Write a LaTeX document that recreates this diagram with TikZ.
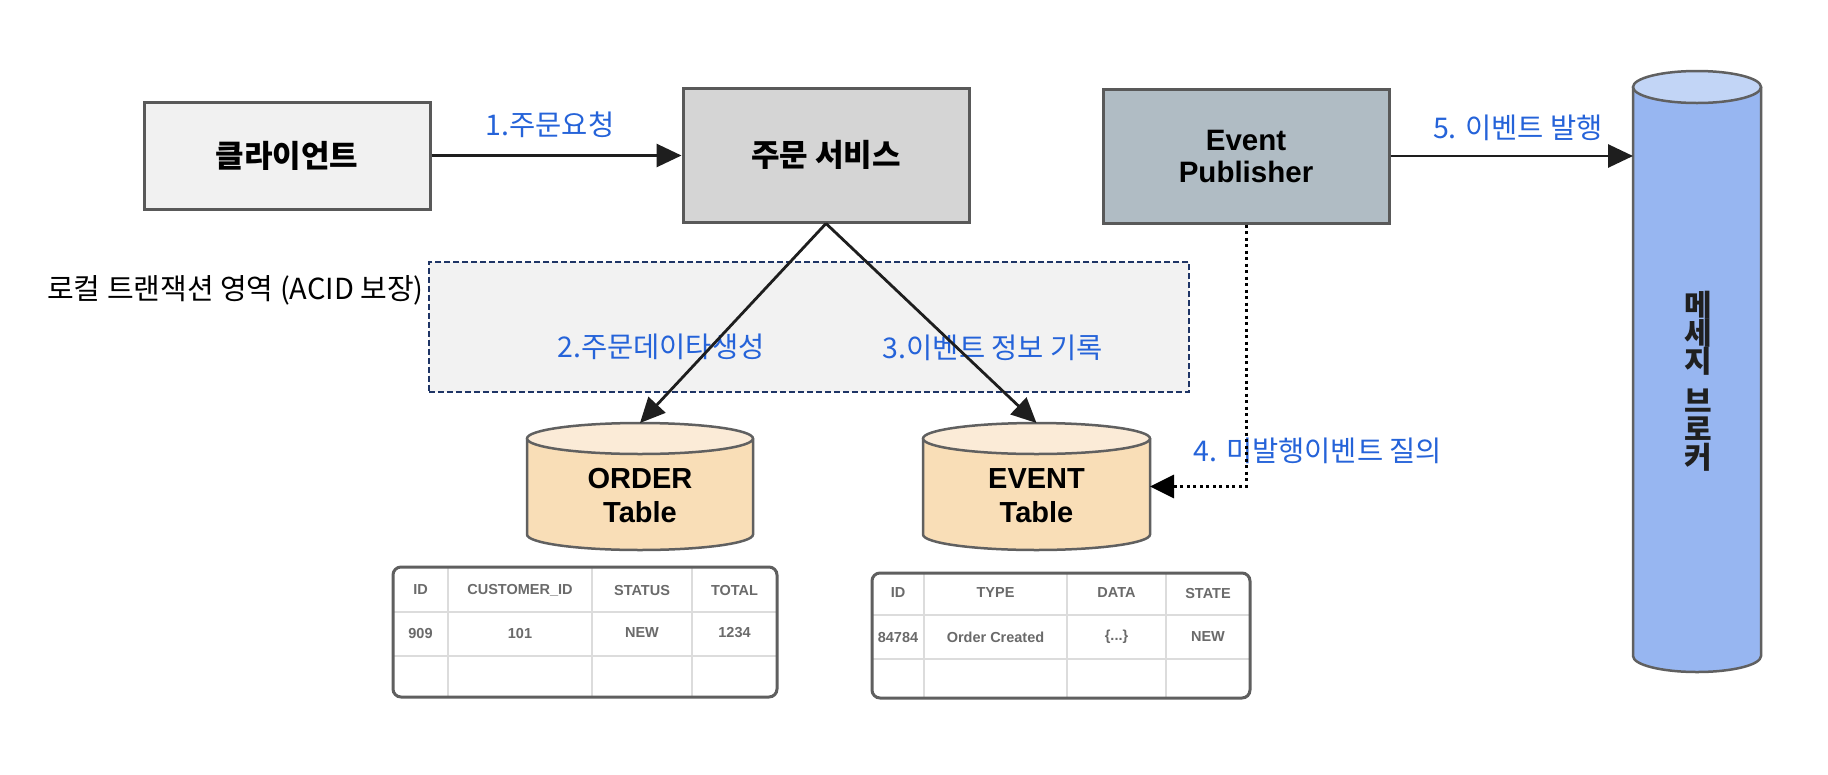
\documentclass[tikz,border=0pt]{standalone}
\usepackage{fontspec}
\setmainfont{Noto Sans CJK KR}
\newfontfamily\arialf{Liberation Sans}
\usetikzlibrary{arrows.meta}

\definecolor{boxline}{HTML}{595959}
\definecolor{clientfill}{HTML}{F1F1F1}
\definecolor{svcfill}{HTML}{D5D5D5}
\definecolor{pubfill}{HTML}{B0BCC4}
\definecolor{brokerfill}{HTML}{97B6F1}
\definecolor{brokertop}{HTML}{C2D5F6}
\definecolor{dbfill}{HTML}{F9DEB7}
\definecolor{dbtop}{HTML}{FBEBD7}
\definecolor{lblblue}{HTML}{2563D9}
\definecolor{txfill}{HTML}{F2F2F2}
\definecolor{txline}{HTML}{1F3566}
\definecolor{tblline}{HTML}{5F5F5F}
\definecolor{tblgrid}{HTML}{DCDCDC}
\definecolor{tbltext}{HTML}{6A6A6A}
\definecolor{arrowc}{HTML}{1E1E1E}
\definecolor{cylline}{HTML}{606060}

% cylinder: cx, cy, rx, half height, ry, body colour, top colour
\newcommand\dbcyl[7]{%
  \fill[#6] (#1-#3,#2-#4+#5) -- (#1-#3,#2+#4-#5)
     arc[start angle=180, end angle=360, x radius=#3pt, y radius=#5pt]
     -- (#1+#3,#2-#4+#5) -- cycle;
  \draw[cylline, line width=2.5pt] (#1-#3,#2-#4+#5) -- (#1-#3,#2+#4-#5)
     arc[start angle=180, end angle=360, x radius=#3pt, y radius=#5pt]
     -- (#1+#3,#2-#4+#5);
  \filldraw[fill=#7, draw=cylline, line width=2.5pt] (#1,#2-#4+#5)
     ellipse[x radius=#3pt, y radius=#5pt];
}

\begin{document}
\begin{tikzpicture}[x=1pt, y=-1pt,
  box/.style={draw=boxline, line width=3pt, minimum width=286pt, inner sep=0pt,
    align=center, font=\fontsize{31}{34}\selectfont\bfseries},
  conn/.style={draw=arrowc, line width=2.8pt, -{Triangle[length=25pt,width=23pt]}},
  dotconn/.style={draw=black, line width=3pt, dash pattern=on 3pt off 3.5pt,
    -{Triangle[length=24pt,width=23pt]}},
  lbl/.style={text=lblblue, inner sep=0pt, font=\fontsize{28.5}{32}\selectfont},
  shapenode/.style={inner sep=0pt, outer sep=0pt},
  cyltext/.style={inner sep=0pt, align=center, font=\arialf\bfseries\fontsize{29}{34}\selectfont},
  tcell/.style={text=tbltext, inner sep=0pt, font=\arialf\bfseries\fontsize{14.5}{16}\selectfont},
  tborder/.style={draw=tblline, line width=3pt, rounded corners=8pt},
  tgrid/.style={draw=tblgrid, line width=1.5pt}
]
\fill[white] (0,0) rectangle (1828,774);
\useasboundingbox (0,0) rectangle (1828,774);

% transaction area
\node[draw=txline, fill=txfill, line width=1.5pt, dash pattern=on 6pt off 3pt,
  minimum width=760pt, minimum height=130pt, inner sep=0pt] (tx) at (809,327) {};
\node[anchor=east, inner sep=0pt, font=\fontsize{29}{32}\selectfont] (txlbl) at (424,290)
  {로컬 트랜잭션 영역 (ACID 보장)};

% boxes
\node[box, fill=clientfill, minimum height=107pt] (client) at (287,155.5) {클라이언트};
\node[box, fill=svcfill, minimum height=134pt] (svc) at (826,155) {주문 서비스};
\node[box, fill=pubfill, minimum height=134pt, font=\arialf\bfseries\fontsize{29.5}{32}\selectfont]
  (pub) at (1246,156) {Event\\Publisher};

% cylinders
\dbcyl{640}{486.5}{113}{63.5}{15.5}{dbfill}{dbtop}
\node[shapenode, minimum width=226pt, minimum height=127pt] (order) at (640,486.5) {};
\node[cyltext] (ordertext) at (640,496) {ORDER\\Table};

\dbcyl{1036.5}{486.5}{113.5}{63.5}{15.5}{dbfill}{dbtop}
\node[shapenode, minimum width=227pt, minimum height=127pt] (event) at (1036.5,486.5) {};
\node[cyltext] (eventtext) at (1036.5,496) {EVENT\\Table};

\dbcyl{1697}{371.5}{64}{300.5}{16}{brokerfill}{brokertop}
\node[shapenode, minimum width=128pt, minimum height=601pt] (broker) at (1697,371.5) {};
\node[inner sep=0pt, align=center, text=black!88,
  font={\fontsize{30}{28}\selectfont\bfseries\lineskiplimit=-30pt}]
  (brokertext) at (1698,381) {메\\세\\지\\[12pt]브\\로\\커};

% labels
\node[lbl] (l1) at (550,125) {1.주문요청};
\node[lbl] (l2) at (661,347) {2.주문데이타생성};
\node[lbl] (l3) at (993,348) {3.이벤트 정보 기록};
\node[lbl] (l4) at (1318,451) {4. 미발행이벤트 질의};
\node[lbl] (l5) at (1518,128) {5. 이벤트 발행};

% connectors
\draw[conn] (client.east) -- (client.east -| svc.west);
\draw[conn] (svc.south) -- (order.north);
\draw[conn] (svc.south) -- (event.north);
\draw[dotconn] (pub.south) |- (event.east);
\draw[conn] (pub.east) -- (pub.east -| broker.west);

% ORDER table
\fill[white, rounded corners=8pt] (393,567) rectangle (777,697);
\draw[tgrid] (448,567) -- (448,697) (592,567) -- (592,697) (692,567) -- (692,697)
  (393,612) -- (777,612) (393,656) -- (777,656);
\draw[tborder] (393,567) rectangle (777,697);
\node[tcell] (oh1) at (420.5,590) {ID};
\node[tcell] (oh2) at (520,590) {CUSTOMER\_ID};
\node[tcell] (oh3) at (642,590) {STATUS};
\node[tcell] (oh4) at (734.5,590) {TOTAL};
\node[tcell] (or1) at (420.5,633) {909};
\node[tcell] (or2) at (520,633) {101};
\node[tcell] (or3) at (642,633) {NEW};
\node[tcell] (or4) at (734.5,633) {1234};

% EVENT table
\fill[white, rounded corners=8pt] (872,573) rectangle (1250,698);
\draw[tgrid] (924,573) -- (924,698) (1067,573) -- (1067,698) (1166,573) -- (1166,698)
  (872,615) -- (1250,615) (872,659) -- (1250,659);
\draw[tborder] (872,573) rectangle (1250,698);
\node[tcell] (eh1) at (898,593) {ID};
\node[tcell] (eh2) at (995.5,593) {TYPE};
\node[tcell] (eh3) at (1116.5,593) {DATA};
\node[tcell] (eh4) at (1208,593) {STATE};
\node[tcell] (er1) at (898,637) {84784};
\node[tcell] (er2) at (995.5,637) {Order Created};
\node[tcell] (er3) at (1116.5,637) {\{...\}};
\node[tcell] (er4) at (1208,637) {NEW};
\end{tikzpicture}
\end{document}
